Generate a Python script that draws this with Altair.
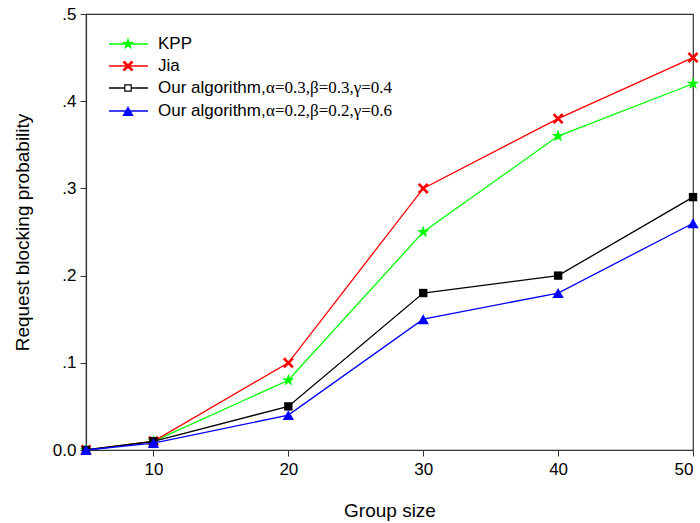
import altair as alt
import pandas as pd

# ---- data ----
group_size = [5, 10, 20, 30, 40, 50]
kpp = [0.0, 0.01, 0.08, 0.25, 0.36, 0.42]
jia = [0.0, 0.01, 0.10, 0.30, 0.38, 0.45]
ours_a = [0.0, 0.01, 0.05, 0.18, 0.20, 0.29]
ours_b = [0.0, 0.008, 0.04, 0.15, 0.18, 0.26]
series_values = [kpp, jia, ours_a, ours_b]
legend_main = ["KPP", "Jia", "Our algorithm,", "Our algorithm,"]
legend_greek = ["", "", "α=0.3,β=0.3,γ=0.4", "α=0.2,β=0.2,γ=0.6"]
x_ticks = [10, 20, 30, 40, 50]
y_ticks = [0.0, 0.1, 0.2, 0.3, 0.4, 0.5]

# ---- styles ----
STAR = ("M0,-1 L0.235,-0.324 L0.951,-0.309 L0.380,0.124 L0.588,0.809 L0,0.4 "
        "L-0.588,0.809 L-0.380,0.124 L-0.951,-0.309 L-0.235,-0.324 Z")
XSHAPE = ("M-1,-0.65 L-0.65,-1 L0,-0.35 L0.65,-1 L1,-0.65 L0.35,0 L1,0.65 "
          "L0.65,1 L0,0.35 L-0.65,1 L-1,0.65 L-0.35,0 Z")
colors = ["#00ff00", "#ff0000", "#000000", "#0000ff"]
shapes = [STAR, XSHAPE, "square", "triangle-up"]
sizes = [170, 120, 70, 130]
legend_y = [44, 66, 88, 111]
legend_sizes = [170, 120, 40, 130]
legend_filled = [True, True, False, True]

X = alt.X("x:Q",
          scale=alt.Scale(domain=[5, 50], nice=False, zero=False),
          axis=alt.Axis(values=x_ticks, title="Group size", grid=False,
                        labelPadding=5, titlePadding=24))
Y = alt.Y("y:Q",
          scale=alt.Scale(domain=[0, 0.5], nice=False),
          axis=alt.Axis(values=y_ticks, title="Request blocking probability",
                        grid=False, labelPadding=4, titlePadding=20,
                        labelExpr="datum.value == 0 ? '0.0' : replace(format(datum.value, '.1f'), '0.', '.')"))

layers = []
for vals, c, sh, sz in zip(series_values, colors, shapes, sizes):
    df = pd.DataFrame({"x": group_size, "y": vals})
    base = alt.Chart(df)
    layers.append(base.mark_line(color=c, strokeWidth=1.3).encode(x=X, y=Y))
    layers.append(base.mark_point(shape=sh, size=sz, filled=True,
                                  color=c, opacity=1).encode(x=X, y=Y))

# ---- manual legend (mixed fonts) ----
one = pd.DataFrame({"k": [0]})
for i in range(4):
    yy = legend_y[i] - 14
    c = colors[i]
    layers.append(alt.Chart(one).mark_rule(color=c, strokeWidth=1.3).encode(
        x=alt.value(23), x2=alt.value(62), y=alt.value(yy)))
    if legend_filled[i]:
        pt = alt.Chart(one).mark_point(shape=shapes[i], size=legend_sizes[i],
                                       filled=True, color=c, opacity=1)
    else:
        pt = alt.Chart(one).mark_point(shape=shapes[i], size=legend_sizes[i],
                                       filled=False, color=c, opacity=1,
                                       strokeWidth=1.2, fill="white")
    layers.append(pt.encode(x=alt.value(42), y=alt.value(yy)))
    layers.append(alt.Chart(one).mark_text(
        text=legend_main[i], align="left", baseline="middle",
        font="Liberation Sans", fontSize=17, color="black").encode(
        x=alt.value(72), y=alt.value(yy)))
    if legend_greek[i]:
        layers.append(alt.Chart(one).mark_text(
            text=legend_greek[i], align="left", baseline="middle",
            font="Liberation Serif", fontSize=17, color="black").encode(
            x=alt.value(180), y=alt.value(yy)))

chart = alt.layer(*layers).properties(
    width=607, height=436,
    background="white",
    autosize=alt.AutoSizeParams(type="none"),
    padding={"left": 86, "top": 14, "right": 7, "bottom": 73},
).configure_view(stroke="#333333", strokeWidth=1.2).configure_axis(
    domainColor="#333333", domainWidth=1.2, tickColor="#333333", tickSize=6,
    labelFont="Liberation Sans", titleFont="Liberation Sans",
    labelFontSize=17, titleFontSize=19, labelColor="black", titleColor="black",
    titleFontWeight="normal",
)

chart.save("out.html", embed_options={"renderer": "svg", "actions": False})
